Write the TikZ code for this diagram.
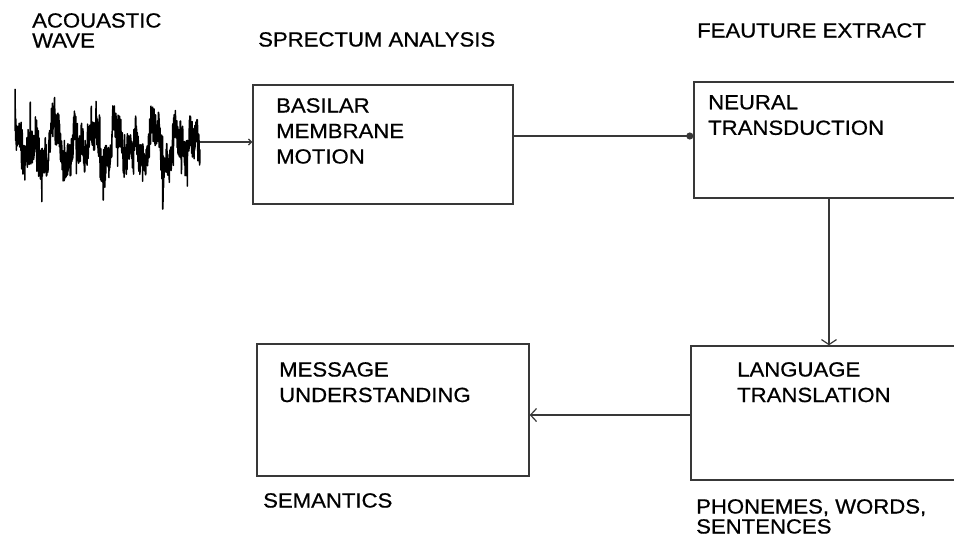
\documentclass[tikz,border=0pt]{standalone}
\usepackage{fontspec}
\setmainfont{Liberation Sans}[FakeStretch=1.08,FakeBold=0.6]
\usetikzlibrary{arrows.meta}
\definecolor{linegray}{HTML}{383838}
\begin{document}
\begin{tikzpicture}[x=1pt,y=-1pt,
  box/.style={draw=linegray, line width=1.4pt, inner sep=0pt},
  conn/.style={draw=linegray, line width=1.2pt},
  outlbl/.style={font=\fontsize{20.5}{20}\selectfont, align=left, inner sep=0pt, anchor=north west, text=black},
  inlbl/.style={font=\fontsize{20.5}{25.5}\selectfont, align=left, inner sep=0pt, anchor=north west, text=black}]
\useasboundingbox (0,0) rectangle (954,542);
\fill[white] (0,0) rectangle (954,542);

% acoustic waveform: a few mixed tones plus noise and sparse spikes
\pgfmathsetseed{23}
\draw[black, line width=1.5pt, line join=round]
  plot[domain=15:200, samples=850]
  (\x, {146 + 16*sin(18*\x) + 10*sin(11*\x+40) + 8*sin(47*\x) + 18*rand + 32*rand*(rnd>0.9)});
\coordinate (waveend) at (200,142);

% processing stages
\node[box, minimum width=260pt, minimum height=119pt] (basilar) at (383,144.5) {};
\node[box, minimum width=281pt, minimum height=116pt] (neural) at (834.5,140) {};
\node[box, minimum width=272pt, minimum height=132pt] (message) at (393,410) {};
\node[box, minimum width=284pt, minimum height=134pt] (language) at (833,413) {};

% stage texts
\node[inlbl] (tbasilar) at (276,98) {BASILAR\\MEMBRANE\\MOTION};
\node[inlbl] (tneural) at (708,95) {NEURAL\\TRANSDUCTION};
\node[inlbl] (tmessage) at (279,362) {MESSAGE\\UNDERSTANDING};
\node[inlbl] (tlanguage) at (737,362) {LANGUAGE\\TRANSLATION};

% captions
\node[outlbl] (cwave) at (32,13) {ACOUASTIC\\WAVE};
\node[outlbl] (cspec) at (258,32) {SPRECTUM ANALYSIS};
\node[outlbl] (cfeat) at (697,23) {FEAUTURE EXTRACT};
\node[outlbl] (csem) at (263,493) {SEMANTICS};
\node[outlbl] (cphon) at (696,499) {PHONEMES, WORDS,\\SENTENCES};

% connectors
\draw[conn, -{Straight Barb[length=3pt,width=6pt]}] (waveend) -- (waveend -| basilar.west);
\draw[conn, -{Circle[length=7pt]}] (basilar.east |- 0,136) -- (neural.west |- 0,136);
\draw[conn, -{Straight Barb[length=5pt,width=15pt]}] (neural.south -| 829,0) -- (language.north -| 829,0);
\draw[conn, -{Straight Barb[length=6pt,width=13pt]}] (language.west |- 0,415) -- (message.east |- 0,415);
\end{tikzpicture}
\end{document}
